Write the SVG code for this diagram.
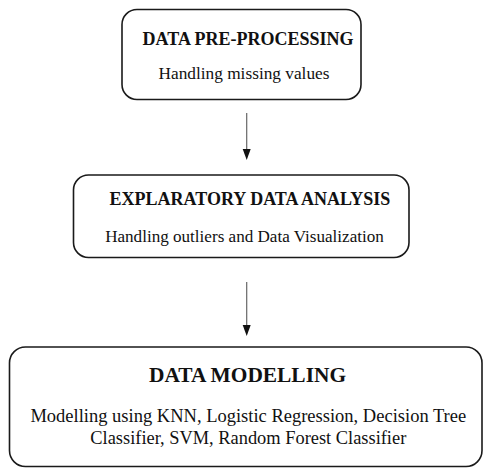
<svg xmlns="http://www.w3.org/2000/svg" width="483" height="475" viewBox="0 0 483 475">
<style>
.box{fill:#fff;stroke:#1a1a1a;stroke-width:1.6}
.t{font-family:"Liberation Serif","Times New Roman",serif;fill:#111;text-anchor:middle}
.h{font-weight:bold}
.conn{stroke:#666;stroke-width:1.2;fill:none}
</style>
<defs>
<marker id="ah" markerWidth="8" markerHeight="11" refX="4" refY="11" orient="auto-start-reverse" markerUnits="userSpaceOnUse" viewBox="0 0 8 11">
<path d="M0,0 L8,0 L4,11 Z" fill="#111" transform="rotate(0)"/>
</marker>
</defs>
<rect width="483" height="475" fill="#fff"/>
<g id="connectors">
<line class="conn" x1="246.7" y1="113" x2="246.7" y2="149"/>
<path d="M242.7,149 L250.7,149 L246.7,160 Z" fill="#111"/>
<line class="conn" x1="246.7" y1="282" x2="246.7" y2="325"/>
<path d="M242.7,325 L250.7,325 L246.7,336 Z" fill="#111"/>
</g>
<g id="node-preprocessing">
<rect class="box" x="122" y="9.5" width="239" height="90" rx="15"/>
<text class="t h" x="248" y="44.5" font-size="18">DATA PRE-PROCESSING</text>
<text class="t" x="244" y="78.5" font-size="17.3">Handling missing values</text>
</g>
<g id="node-eda">
<rect class="box" x="73.5" y="175" width="335.5" height="82.5" rx="15"/>
<text class="t h" x="250" y="205" font-size="18">EXPLARATORY DATA ANALYSIS</text>
<text class="t" x="244.5" y="242" font-size="17.1">Handling outliers and Data Visualization</text>
</g>
<g id="node-modelling">
<rect class="box" x="9.5" y="347" width="472.5" height="119.5" rx="16"/>
<text class="t h" x="247.5" y="381.5" font-size="21.4">DATA MODELLING</text>
<text class="t" x="248.3" y="421.5" font-size="18.5">Modelling using KNN, Logistic Regression, Decision Tree</text>
<text class="t" x="248.3" y="443.5" font-size="18.4">Classifier, SVM, Random Forest Classifier</text>
</g>
</svg>
